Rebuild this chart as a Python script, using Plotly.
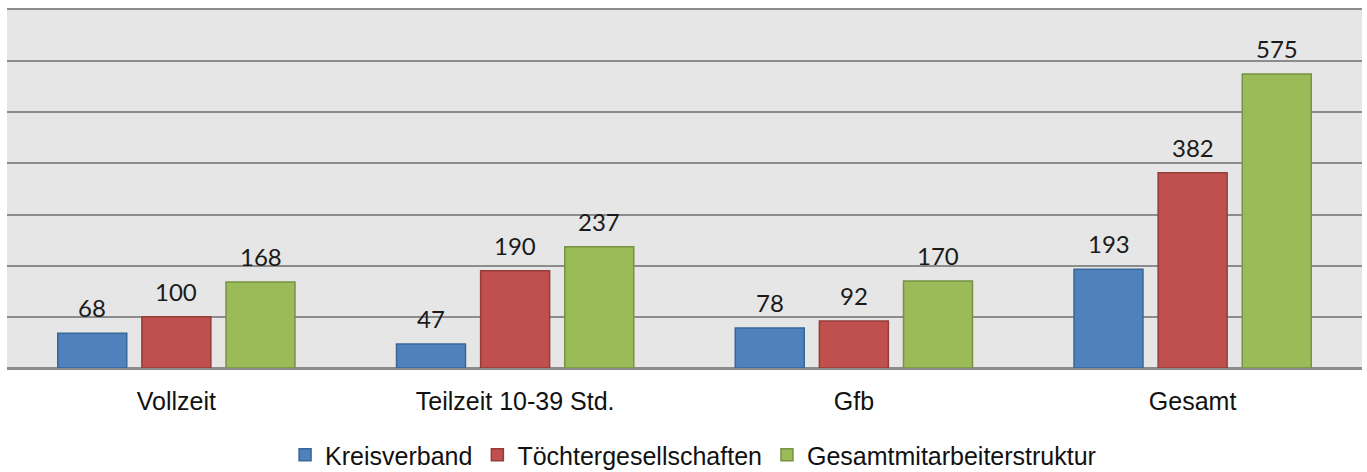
import plotly.graph_objects as go

# Daten
kategorien = ["Vollzeit", "Teilzeit 10-39 Std.", "Gfb", "Gesamt"]
kreisverband = [68, 47, 78, 193]
toechter = [100, 190, 92, 382]
gesamt_struktur = [168, 237, 170, 575]

serien = [
    ("Kreisverband", kreisverband, "#4F81BD", "#3A6698"),
    ("Töchtergesellschaften", toechter, "#C0504D", "#943C3A"),
    ("Gesamtmitarbeiterstruktur", gesamt_struktur, "#9BBB59", "#779244"),
]

W, H = 1367, 472
margin = dict(l=7, r=5, t=10, b=104, autoexpand=False)
bargap = 0.255
bargroupgap = 0.18

fig = go.Figure()
for name, werte, farbe, rand in serien:
    fig.add_trace(go.Bar(
        x=kategorien, y=werte, name=name,
        marker=dict(color=farbe, line=dict(color=rand, width=1.5)),
    ))

# Wertebeschriftungen über den Balken
plot_w = W - margin["l"] - margin["r"]
cat_w = plot_w / len(kategorien)
slot = cat_w * (1 - bargap) / len(serien)
for i, (name, werte, farbe, rand) in enumerate(serien):
    dx = (i - (len(serien) - 1) / 2) * slot
    for k, v in zip(kategorien, werte):
        fig.add_annotation(
            x=k, y=v, text=str(v), showarrow=False,
            xshift=dx, yshift=9, yanchor="bottom",
            font=dict(family="Lato, sans-serif", size=24, color="#1a1a1a"),
        )

fig.update_layout(
    width=W, height=H, margin=margin,
    paper_bgcolor="white", plot_bgcolor="#E6E6E6",
    barmode="group", bargap=bargap, bargroupgap=bargroupgap,
    font=dict(family="Liberation Sans, Arial, sans-serif", size=25, color="#111"),
    showlegend=True,
    legend=dict(
        orientation="h", xref="container", yref="container",
        x=0.507, y=0.036, xanchor="center", yanchor="middle",
        font=dict(size=25), itemwidth=30, tracegroupgap=0,
    ),
    xaxis=dict(
        showgrid=False, ticks="outside", ticklen=10, tickcolor="rgba(0,0,0,0)",
        tickfont=dict(size=25), showline=True, mirror=True,
        linecolor="#8C8C8C", linewidth=2,
    ),
    yaxis=dict(
        range=[0, 700], dtick=100, showticklabels=False,
        gridcolor="#8C8C8C", gridwidth=2, zeroline=True,
        zerolinecolor="#8C8C8C", zerolinewidth=2, fixedrange=True,
    ),
)

fig.write_html("out.html", config={"displayModeBar": False},
               post_script="document.body.style.margin='0';")
